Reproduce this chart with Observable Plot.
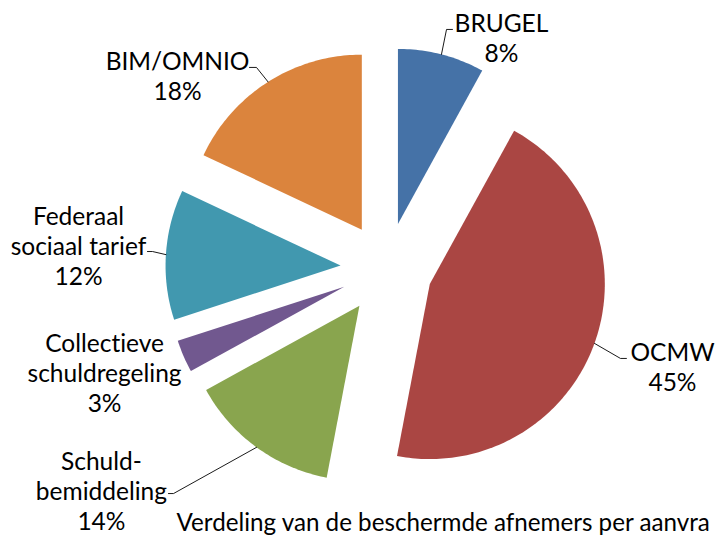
<!DOCTYPE html>
<html>
<head>
<meta charset="utf-8">
<script src="https://cdn.jsdelivr.net/npm/d3@7"></script>
<script src="https://cdn.jsdelivr.net/npm/@observablehq/plot@0.6"></script>
<style>
  html, body { margin: 0; padding: 0; background: #fff; }
  body { width: 717px; height: 536px; overflow: hidden; font-family: Lato, "Open Sans", sans-serif; }
  #chart svg { display: block; }
  #chart svg text { font-variant-ligatures: none; font-feature-settings: "liga" 0, "clig" 0; }
</style>
</head>
<body>
<div id="chart"></div>
<script>
// ---- data ----
const categories = ["BRUGEL", "OCMW", "Schuldbemiddeling", "Collectieve schuldregeling", "Federaal sociaal tarief", "BIM/OMNIO"];
const values = [8, 45, 14, 3, 12, 18];
const labelNames = ["BRUGEL", "OCMW", "Schuld-\nbemiddeling", "Collectieve\nschuldregeling", "Federaal\nsociaal tarief", "BIM/OMNIO"];
const colors = ["#4572A7", "#AA4643", "#89A54E", "#71588F", "#4198AF", "#DB843D"];
const titleText = "Verdeling van de beschermde afnemers per aanvra";

// ---- layout (units: pie radius = 1, y up, origin = pie centre) ----
const W = 717, H = 536;
const centerPx = [386, 268], radiusPx = 175;
const explode = 0.263;
// label block centres
const labelPos = [[0.657, 1.32], [1.634, -0.56], [-1.629, -1.269], [-1.611, -0.594], [-1.76, 0.131], [-1.194, 1.103]];
// leader elbow and end points (null = no leader)
const leaderPts = [
  [[0.343, 1.366], [0.377, 1.366]],
  [[1.337, -0.514], [1.371, -0.514]],
  [[-1.217, -1.286], [-1.246, -1.286]],
  null,
  [[-1.337, 0.097], [-1.366, 0.097]],
  [[-0.743, 1.149], [-0.783, 1.149]]
];

// ---- geometry from values ----
const total = d3.sum(values);
const slices = [];
let acc = 0;
values.forEach((v, i) => {
  const a0 = acc / total * 2 * Math.PI;
  acc += v;
  const a1 = acc / total * 2 * Math.PI;
  const mid = (a0 + a1) / 2;
  const ox = explode * Math.sin(mid), oy = explode * Math.cos(mid);
  slices.push({i, a0, a1, mid, ox, oy});
});

const polyData = [];
slices.forEach(s => {
  const cat = categories[s.i];
  polyData.push({cat, x: s.ox, y: s.oy});
  const n = Math.max(2, Math.ceil((s.a1 - s.a0) / (Math.PI / 180)));
  for (let k = 0; k <= n; k++) {
    const a = s.a0 + (s.a1 - s.a0) * k / n;
    polyData.push({cat, x: s.ox + Math.sin(a), y: s.oy + Math.cos(a)});
  }
  polyData.push({cat, x: s.ox, y: s.oy});
});

const leaderData = [];
slices.forEach(s => {
  const lp = leaderPts[s.i];
  if (!lp) return;
  const cat = categories[s.i];
  leaderData.push({cat, x: s.ox + Math.sin(s.mid), y: s.oy + Math.cos(s.mid)});
  lp.forEach(p => leaderData.push({cat, x: p[0], y: p[1]}));
});

const labelData = slices.map(s => ({
  cat: categories[s.i],
  x: labelPos[s.i][0],
  y: labelPos[s.i][1],
  text: labelNames[s.i] + "\n" + values[s.i] + "%"
}));

const xDomain = [-centerPx[0] / radiusPx, (W - centerPx[0]) / radiusPx];
const yDomain = [-(H - centerPx[1]) / radiusPx, centerPx[1] / radiusPx];

const chart = Plot.plot({
  width: W,
  height: H,
  margin: 0,
  x: {domain: xDomain, range: [0, W], axis: null},
  y: {domain: yDomain, range: [H, 0], axis: null},
  color: {domain: categories, range: colors},
  style: {fontFamily: "Lato, 'Open Sans', sans-serif", background: "#fff"},
  marks: [
    Plot.line(polyData, {x: "x", y: "y", z: "cat", fill: "cat", stroke: "none", curve: "linear"}),
    Plot.line(leaderData, {x: "x", y: "y", z: "cat", stroke: "#000", strokeWidth: 0.9, curve: "linear"}),
    Plot.text(labelData, {x: "x", y: "y", text: "text", textAnchor: "middle", lineAnchor: "middle",
      fontSize: 24.5, lineHeight: 30 / 24.5, fill: "#000"}),
    Plot.text([titleText], {text: d => d, frameAnchor: "bottom-left", textAnchor: "start", lineAnchor: "bottom",
      dx: 176, dy: -6, fontSize: 24.2, fill: "#000"})
  ]
});
document.getElementById("chart").appendChild(chart);
</script>
</body>
</html>
